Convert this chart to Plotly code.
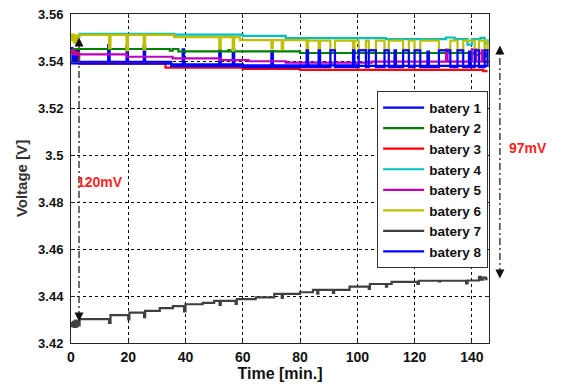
import plotly.graph_objects as go

# ---------------- data ----------------
series_names = ["batery 1", "batery 2", "batery 3", "batery 4",
                "batery 5", "batery 6", "batery 7", "batery 8"]

time_1 = [0, 0.5, 1.0, 1.6, 2.2, 2.8, 13.0, 13.5, 19.4, 19.9, 25.4, 25.9, 35.0, 39.0, 39.5,
          51.8, 52.3, 56.5, 57.0, 60.0, 70.0, 70.5, 100.0, 145.5]
volt_1 = [3.5455, 3.5400, 3.5450, 3.5398, 3.5448, 3.5396, 3.5468, 3.5396, 3.5465, 3.5396, 3.5465, 3.5396,
          3.5386, 3.5450, 3.5386, 3.5448, 3.5386, 3.5450, 3.5386, 3.5381, 3.5442, 3.5381, 3.5379, 3.5379]

time_2 = [0, 0.8, 34.5, 35.5, 37.5, 55.0, 55.4, 80.0, 141.0, 142.5, 144.0, 145.0, 145.5]
volt_2 = [3.5440, 3.5451, 3.5444, 3.5451, 3.5441, 3.5446, 3.5441, 3.5434, 3.5425, 3.5433, 3.5420,
          3.5432, 3.5432]

time_3 = [0, 1.5, 2.8, 33.0, 60.0, 80.0, 144.0, 145.5]
volt_3 = [3.5440, 3.5436, 3.5390, 3.5372, 3.5366, 3.5362, 3.5357, 3.5357]

time_4 = [0, 3.0, 36.0, 60.0, 75.0, 110.0, 131.0, 134.0, 138.5, 140.0, 143.0, 144.5, 145.5]
volt_4 = [3.5505, 3.5516, 3.5512, 3.5507, 3.5497, 3.5493, 3.5500, 3.5493, 3.5470, 3.5493, 3.5498,
          3.5475, 3.5493]

time_5 = [0, 0.8, 19.5, 35.5, 52.0, 62.0, 75.0, 105.0, 131.0, 131.5, 140.0, 141.5, 143.5, 144.0, 145.5]
volt_5 = [3.5445, 3.5428, 3.5418, 3.5411, 3.5404, 3.5399, 3.5393, 3.5397, 3.5448, 3.5397, 3.5450,
          3.5397, 3.5445, 3.5397, 3.5397]

time_6 = [0, 0.4, 1.0, 1.5, 2.1, 2.6, 13.3, 13.8, 19.4, 19.9, 25.4, 25.9, 36.0, 51.8, 52.3, 56.5, 57.0,
          59.0, 70.0, 70.5, 73.6, 74.1, 82.3, 82.8, 86.5, 87.0, 90.6, 92.2, 98.5, 99.0, 100.5, 103.0,
          104.0, 106.5, 109.5, 111.0, 116.0, 118.0, 120.0, 122.0, 128.5, 132.5, 135.0, 137.0, 141.0,
          142.5, 144.5, 145.5]
volt_6 = [3.5490, 3.5512, 3.5478, 3.5508, 3.5480, 3.5511, 3.5455, 3.5511, 3.5445, 3.5511, 3.5448, 3.5511,
          3.5502, 3.5452, 3.5502, 3.5445, 3.5502, 3.5489, 3.5455, 3.5489, 3.5450, 3.5489, 3.5445, 3.5487,
          3.5450, 3.5487, 3.5447, 3.5487, 3.5447, 3.5487, 3.5447, 3.5487, 3.5447, 3.5487, 3.5447, 3.5487,
          3.5447, 3.5487, 3.5447, 3.5487, 3.5447, 3.5487, 3.5447, 3.5487, 3.5447, 3.5487, 3.5447, 3.5487]

time_7 = [0, 0.3, 0.7, 1.0, 1.4, 1.8, 2.2, 2.6, 3.0, 13.3, 13.8, 20.0, 20.4, 25.5, 25.9, 31.0, 35.6,
          39.5, 40.0, 46.0, 50.0, 51.9, 52.3, 57.5, 57.9, 64.5, 71.0, 73.6, 74.0, 80.0, 84.5, 86.0, 86.4,
          91.5, 91.9, 97.3, 104.0, 104.4, 110.0, 110.4, 112.0, 121.0, 121.5, 128.5, 129.0, 138.0, 138.5,
          142.5, 143.2, 144.0, 145.0, 145.5]
volt_7 = [3.4285, 3.4272, 3.4290, 3.4268, 3.4295, 3.4270, 3.4292, 3.4275, 3.4302, 3.4286, 3.4319, 3.4300,
          3.4329, 3.4310, 3.4337, 3.4348, 3.4357, 3.4335, 3.4365, 3.4371, 3.4379, 3.4362, 3.4379, 3.4366,
          3.4387, 3.4394, 3.4409, 3.4392, 3.4409, 3.4416, 3.4426, 3.4410, 3.4426, 3.4413, 3.4426, 3.4440,
          3.4430, 3.4451, 3.4440, 3.4451, 3.4460, 3.4451, 3.4465, 3.4462, 3.4465, 3.4454, 3.4466, 3.4482,
          3.4470, 3.4478, 3.4472, 3.4472]

time_8 = [0, 3.0, 35.0, 60.0, 82.3, 82.8, 86.5, 87.0, 90.6, 92.2, 98.5, 99.0, 100.5, 103.0, 104.0, 106.5,
          109.5, 111.0, 113.0, 113.5, 116.0, 118.0, 120.0, 122.0, 124.5, 125.0, 128.5, 132.5, 135.0, 137.0,
          139.0, 139.5, 141.0, 142.5, 144.5, 145.5]
volt_8 = [3.5390, 3.5389, 3.5378, 3.5374, 3.5445, 3.5374, 3.5445, 3.5374, 3.5445, 3.5374, 3.5445, 3.5374,
          3.5445, 3.5374, 3.5445, 3.5374, 3.5445, 3.5374, 3.5445, 3.5374, 3.5445, 3.5374, 3.5445, 3.5374,
          3.5440, 3.5374, 3.5445, 3.5374, 3.5445, 3.5374, 3.5440, 3.5374, 3.5445, 3.5374, 3.5445, 3.5374]

x_tick_values = [0, 20, 40, 60, 80, 100, 120, 140]
x_tick_labels = ["0", "20", "40", "60", "80", "100", "120", "140"]
y_tick_values = [3.42, 3.44, 3.46, 3.48, 3.50, 3.52, 3.54, 3.56]
y_tick_labels = ["3.42", "3.44", "3.46", "3.48", "3.5", "3.52", "3.54", "3.56"]

# span annotations (voltage levels)
span_120_time = 2.8
span_120_low, span_120_high = 3.4291, 3.5500
span_97_low, span_97_high = 3.4475, 3.5466

# ---------------- figure ----------------
X_RANGE = [0, 146]
Y_RANGE = [3.42, 3.56]

colors = ["#0000FF", "#008000", "#FF0000", "#00BFBF", "#BF00BF", "#BFBF00", "#404040", "#0000FF"]
times = [time_1, time_2, time_3, time_4, time_5, time_6, time_7, time_8]
volts = [volt_1, volt_2, volt_3, volt_4, volt_5, volt_6, volt_7, volt_8]

fig = go.Figure()
for name, c, t, v in zip(series_names, colors, times, volts):
    assert len(t) == len(v), name
    fig.add_trace(go.Scatter(x=t, y=v, mode="lines", name=name,
                             line=dict(color=c, width=2.2, shape="hv")))

FONT = "Liberation Sans, Arial, sans-serif"


def ypaper(v):
    return (v - Y_RANGE[0]) / (Y_RANGE[1] - Y_RANGE[0])


DASHDOT = "7px,3px,2px,3px"
# 120 mV span (inside plot)
fig.add_shape(type="line", xref="x", yref="y", x0=span_120_time, x1=span_120_time,
              y0=span_120_low + 0.0015, y1=span_120_high - 0.0015,
              line=dict(color="#444444", width=1.5, dash=DASHDOT))
# 97 mV span (outside plot, right)
x97 = 1.026
fig.add_shape(type="line", xref="paper", yref="paper", x0=x97, x1=x97,
              y0=ypaper(span_97_low) + 0.01, y1=ypaper(span_97_high) - 0.01,
              line=dict(color="#444444", width=1.5, dash=DASHDOT))

arrow_common = dict(text="", showarrow=True, arrowhead=2, arrowsize=1.2, arrowwidth=1.5,
                    arrowcolor="#111111", ax=0)
fig.add_annotation(x=span_120_time, y=span_120_high, xref="x", yref="y", ay=10, **arrow_common)
fig.add_annotation(x=span_120_time, y=span_120_low, xref="x", yref="y", ay=-10, **arrow_common)
fig.add_annotation(x=x97, y=ypaper(span_97_high), xref="paper", yref="paper", ay=10, **arrow_common)
fig.add_annotation(x=x97, y=ypaper(span_97_low), xref="paper", yref="paper", ay=-10, **arrow_common)

fig.add_annotation(x=10.2, y=3.4885, xref="x", yref="y", text="<b>120mV</b>", showarrow=False,
                   xanchor="center", yanchor="middle",
                   font=dict(family=FONT, size=14, color="#FF1F1F"))
fig.add_annotation(x=1.093, y=ypaper(3.503), xref="paper", yref="paper", text="<b>97mV</b>",
                   showarrow=False, xanchor="center", yanchor="middle",
                   font=dict(family=FONT, size=14, color="#FF1F1F"))

axis_common = dict(showline=True, linecolor="#222222", linewidth=1, mirror="ticks",
                   ticks="inside", ticklen=4, tickcolor="#222222",
                   showgrid=True, gridcolor="#000000", gridwidth=1, griddash="3px,3px",
                   zeroline=False, automargin=False, ticklabeloverflow="allow")

# The page body has a default 8px margin, so the figure is shifted by 8px;
# margins compensate so that the plot area lands where it is in the reference.
fig.update_layout(
    width=561, height=385,
    margin=dict(l=63, r=80, t=6, b=50, autoexpand=False),
    paper_bgcolor="white", plot_bgcolor="white",
    font=dict(family=FONT, color="#111111"),
    showlegend=True,
    legend=dict(x=0.998, y=0.765, xanchor="right", yanchor="top",
                bgcolor="white", bordercolor="#333333", borderwidth=1,
                font=dict(family=FONT, size=13.5, color="#111111", weight="bold"),
                itemwidth=41, tracegroupgap=0),
    xaxis=dict(range=X_RANGE, tickvals=x_tick_values, ticktext=x_tick_labels,
               tickfont=dict(size=14, weight="bold"), ticklabelstandoff=1,
               title=dict(text="<b>Time [min.]</b>", font=dict(size=16), standoff=2),
               **axis_common),
    yaxis=dict(range=Y_RANGE, tickvals=y_tick_values, ticktext=y_tick_labels,
               tickfont=dict(size=13, weight="bold"), ticklabelstandoff=4,
               title=dict(text="<b>Voltage [V]</b>", font=dict(size=15, color="#333333"), standoff=6),
               **axis_common),
)

fig.write_html("out.html")
